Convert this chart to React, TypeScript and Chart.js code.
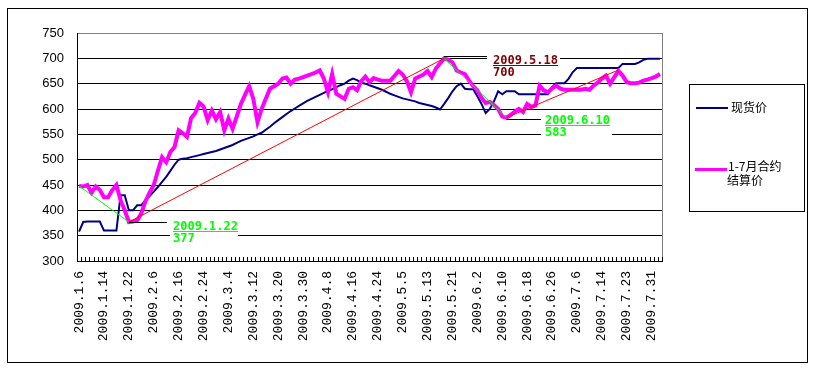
import React, { useEffect, useRef } from 'react';
import { Chart, registerables } from 'chart.js';

Chart.register(...registerables);

// ---------- DATA ----------
const categories = [
  '2009.1.6','2009.1.7','2009.1.8','2009.1.9','2009.1.12','2009.1.13','2009.1.14','2009.1.15','2009.1.16','2009.1.19','2009.1.20','2009.1.21','2009.1.22','2009.1.23',
  '2009.2.2','2009.2.3','2009.2.4','2009.2.5','2009.2.6','2009.2.9','2009.2.10','2009.2.11','2009.2.12','2009.2.13','2009.2.16','2009.2.17','2009.2.18','2009.2.19','2009.2.20','2009.2.23','2009.2.24','2009.2.25','2009.2.26','2009.2.27',
  '2009.3.2','2009.3.3','2009.3.4','2009.3.5','2009.3.6','2009.3.9','2009.3.10','2009.3.11','2009.3.12','2009.3.13','2009.3.16','2009.3.17','2009.3.18','2009.3.19','2009.3.20','2009.3.23','2009.3.24','2009.3.25','2009.3.26','2009.3.27','2009.3.30','2009.3.31',
  '2009.4.1','2009.4.2','2009.4.3','2009.4.7','2009.4.8','2009.4.9','2009.4.10','2009.4.13','2009.4.14','2009.4.15','2009.4.16','2009.4.17','2009.4.20','2009.4.21','2009.4.22','2009.4.23','2009.4.24','2009.4.27','2009.4.28','2009.4.29','2009.4.30',
  '2009.5.4','2009.5.5','2009.5.6','2009.5.7','2009.5.8','2009.5.11','2009.5.12','2009.5.13','2009.5.14','2009.5.15','2009.5.18','2009.5.19','2009.5.20','2009.5.21','2009.5.22','2009.5.25','2009.5.26','2009.5.27',
  '2009.6.1','2009.6.2','2009.6.3','2009.6.4','2009.6.5','2009.6.8','2009.6.9','2009.6.10','2009.6.11','2009.6.12','2009.6.15','2009.6.16','2009.6.17','2009.6.18','2009.6.19','2009.6.22','2009.6.23','2009.6.24','2009.6.25','2009.6.26','2009.6.29','2009.6.30',
  '2009.7.1','2009.7.2','2009.7.3','2009.7.6','2009.7.7','2009.7.8','2009.7.9','2009.7.10','2009.7.13','2009.7.14','2009.7.15','2009.7.16','2009.7.17','2009.7.21','2009.7.22','2009.7.23','2009.7.24','2009.7.27','2009.7.28','2009.7.29','2009.7.30','2009.7.31',
  '2009.8.3','2009.8.4',
];

const shownTickLabels = [
  '2009.1.6','2009.1.14','2009.1.22','2009.2.6','2009.2.16','2009.2.24','2009.3.4','2009.3.12',
  '2009.3.20','2009.3.30','2009.4.8','2009.4.16','2009.4.24','2009.5.5','2009.5.13','2009.5.21',
  '2009.6.2','2009.6.10','2009.6.18','2009.6.26','2009.7.6','2009.7.14','2009.7.23','2009.7.31',
];

const yTicks = [300, 350, 400, 450, 500, 550, 600, 650, 700, 750];

// 现货价
const spotPrice = [
  358,377,378,378,378,378,360,360,360,360,
  430,430,400,400,410,410,420,428,437,446,
  456,466,478,490,500,502,503,505,507,509,
  511,513,515,517,520,523,526,529,533,537,
  540,543,546,550,553,559,565,572,578,584,
  590,596,601,606,611,616,620,624,628,632,
  636,639,643,647,650,656,660,657,652,650,
  647,644,641,638,634,630,627,624,621,619,
  617,615,612,610,608,606,603,599,610,622,
  635,645,650,640,639,639,625,610,592,600,
  615,635,629,635,635,635,629,629,629,629,
  629,629,629,629,643,651,651,651,660,673,
  681,681,681,681,681,681,681,681,681,681,
  681,689,689,689,689,692,697,699,699,699,699,
];

// 1-7月合约结算价
const futuresPrice = [
  448,447,450,435,447,440,426,426,440,450,
  420,400,377,378,380,394,418,435,450,478,
  505,495,515,525,558,552,545,582,592,612,
  605,578,597,580,594,558,581,561,585,610,
  628,645,620,574,600,620,640,645,650,660,
  662,650,658,660,663,666,669,672,676,660,
  633,669,630,625,620,640,643,637,655,664,
  653,661,658,656,656,656,665,675,668,655,
  633,660,664,668,675,663,680,690,700,697,
  692,676,672,669,656,645,637,622,612,614,
  608,600,585,583,588,595,600,594,610,604,
  607,646,637,633,641,646,640,638,638,638,
  638,638,640,638,646,652,660,666,650,663,
  675,666,653,651,651,652,656,658,661,664,669,
];

const seriesNames = ['现货价', '1-7月合约结算价'];
const legendLines = [['现货价'], ['1-7月合约', '结算价']];

// trend segments (category of start/end and values)
const trendFrom = ['2009.1.6', '2009.1.22', '2009.5.19', '2009.6.11'];
const trendTo = ['2009.1.22', '2009.5.19', '2009.6.11', '2009.7.21'];
const trendFromValue = [448, 377, 700, 583];
const trendToValue = [377, 700, 583, 677];

// callouts
const calloutAnchor = ['2009.1.22', '2009.5.19', '2009.6.11'];
const calloutDate = ['2009.1.22', '2009.5.18', '2009.6.10'];
const calloutValue = [377, 700, 583];

// ---------- STYLES / LAYOUT ----------
const NAVY = '#000080';
const MAGENTA = '#FF00FF';
const trendColors = ['#00FF00', '#FF0000', '#00FF00', '#FF0000'];
const calloutColors = ['#00FF00', '#800000', '#00FF00'];
const calloutLayout = [
  { leader: 38, leaderDy: 0, boxDx: 41, boxDy: -10, boxW: 68, boxH: 33, textDx: 44, b1: 8, b2: 20 },
  { leader: 43, leaderDy: -2, boxDx: 43, boxDy: -8, boxW: 73, boxH: 28, textDx: 49, b1: 6, b2: 17.5 },
  { leader: 35, leaderDy: 1, boxDx: 35, boxDy: -5, boxW: 71, boxH: 26, textDx: 38.5, b1: 6.5, b2: 18 },
];

const idx = (c: string) => categories.indexOf(c);

const decorPlugin = {
  id: 'decor',
  beforeDatasetsDraw(chart: any) {
    const { ctx, chartArea: a, scales } = chart;
    const x = scales.x;
    ctx.save();
    ctx.lineWidth = 1;
    ctx.strokeStyle = '#808080';
    ctx.beginPath();
    const rx = Math.round(a.right) + 0.5;
    ctx.moveTo(rx, a.top);
    ctx.lineTo(rx, a.bottom);
    ctx.stroke();
    // inward category tick marks
    const n = categories.length;
    const step = (x.getPixelForValue(n - 1) - x.getPixelForValue(0)) / (n - 1);
    ctx.strokeStyle = '#000';
    ctx.beginPath();
    for (let i = 0; i <= n; i++) {
      const px = Math.round(x.getPixelForValue(0) - step / 2 + i * step) + 0.5;
      ctx.moveTo(px, a.bottom);
      ctx.lineTo(px, a.bottom - 4);
    }
    ctx.stroke();
    ctx.restore();
  },
  afterDatasetsDraw(chart: any) {
    const { ctx, scales } = chart;
    const x = scales.x;
    const y = scales.y;
    ctx.save();
    for (let k = 0; k < calloutAnchor.length; k++) {
      const L = calloutLayout[k];
      const px = x.getPixelForValue(idx(calloutAnchor[k]));
      const py = y.getPixelForValue(calloutValue[k]);
      const ly = Math.round(py + L.leaderDy) + 0.5;
      ctx.strokeStyle = '#000';
      ctx.lineWidth = 1;
      ctx.beginPath();
      ctx.moveTo(px, ly);
      ctx.lineTo(px + L.leader, ly);
      ctx.stroke();
      ctx.fillStyle = '#fff';
      ctx.fillRect(Math.round(px + L.boxDx), Math.round(py + L.boxDy), L.boxW, L.boxH);
      ctx.fillStyle = calloutColors[k];
      ctx.font = 'bold 12px "DejaVu Sans Mono"';
      ctx.textAlign = 'left';
      ctx.textBaseline = 'alphabetic';
      const tx = Math.round(px + L.textDx);
      const t1 = calloutDate[k];
      ctx.fillText(t1, tx, Math.round(py + L.b1));
      const w = ctx.measureText(t1).width;
      ctx.fillRect(tx, Math.round(py + L.b1) + 1, w, 1);
      ctx.fillText(String(calloutValue[k]), tx, Math.round(py + L.b2));
    }
    ctx.restore();
  },
  afterDraw(chart: any) {
    const { ctx } = chart;
    ctx.save();
    // legend box
    ctx.strokeStyle = '#000';
    ctx.lineWidth = 1;
    ctx.strokeRect(689.5, 84.5, 115, 127);
    ctx.lineWidth = 2;
    ctx.strokeStyle = NAVY;
    ctx.beginPath();
    ctx.moveTo(696, 108);
    ctx.lineTo(728, 108);
    ctx.stroke();
    ctx.lineWidth = 3;
    ctx.strokeStyle = MAGENTA;
    ctx.beginPath();
    ctx.moveTo(695, 169.5);
    ctx.lineTo(727, 169.5);
    ctx.stroke();
    ctx.fillStyle = '#000';
    ctx.font = '12px "Noto Sans CJK SC"';
    ctx.textAlign = 'left';
    ctx.textBaseline = 'middle';
    ctx.fillText(legendLines[0][0], 731, 107);
    ctx.fillText(legendLines[1][0], 728, 166);
    ctx.fillText(legendLines[1][1], 727, 180);
    // outer frame
    ctx.lineWidth = 1;
    ctx.strokeStyle = '#000';
    ctx.strokeRect(7.5, 8.5, 800, 354);
    ctx.restore();
  },
};

export default function App() {
  const ref = useRef<HTMLCanvasElement | null>(null);
  useEffect(() => {
    if (!ref.current) return;
    const trendSets = trendFrom.map((f, k) => {
      const a = idx(f);
      const b = idx(trendTo[k]);
      return {
        label: 'trend' + k,
        data: categories.map((_, i) => (i === a ? trendFromValue[k] : i === b ? trendToValue[k] : null)),
        borderColor: trendColors[k],
        borderWidth: 1,
        pointRadius: 0,
        spanGaps: true,
        tension: 0,
        order: 0,
      };
    });
    const chart = new Chart(ref.current, {
      type: 'line',
      data: {
        labels: categories,
        datasets: [
          ...trendSets,
          {
            label: seriesNames[1],
            data: futuresPrice,
            borderColor: MAGENTA,
            borderWidth: 4,
            pointRadius: 0,
            tension: 0,
            order: 1,
          },
          {
            label: seriesNames[0],
            data: spotPrice,
            borderColor: NAVY,
            borderWidth: 2,
            pointRadius: 0,
            tension: 0,
            order: 2,
          },
        ] as any,
      },
      options: {
        animation: false,
        responsive: false,
        devicePixelRatio: 1,
        layout: { padding: { left: 0, right: 155, top: 33, bottom: 8 } },
        plugins: { legend: { display: false }, tooltip: { enabled: false } },
        scales: {
          x: {
            type: 'category',
            offset: true,
            grid: { drawOnChartArea: false, drawTicks: false },
            border: { color: '#000', width: 1 },
            ticks: {
              autoSkip: false,
              maxRotation: 90,
              minRotation: 90,
              padding: 10,
              color: '#000',
              font: { family: '"Liberation Mono"', size: 13 },
              callback: (_v: any, i: number) => (shownTickLabels.includes(categories[i]) ? categories[i] : ''),
            },
            afterFit: (s: any) => {
              s.height = 100;
            },
          },
          y: {
            min: yTicks[0],
            max: yTicks[yTicks.length - 1],
            afterBuildTicks: (s: any) => {
              s.ticks = yTicks.map((v) => ({ value: v }));
            },
            ticks: {
              padding: 13,
              color: '#000',
              font: { family: '"Liberation Sans"', size: 13 },
            },
            grid: {
              drawTicks: false,
              color: (c: any) => (c.tick && c.tick.value === 750 ? '#808080' : '#000'),
            },
            border: { color: '#000', width: 1 },
            afterFit: (s: any) => {
              s.width = 77;
            },
          },
        },
      },
      plugins: [decorPlugin],
    });
    return () => chart.destroy();
  }, []);
  return (
    <canvas
      ref={ref}
      width={817}
      height={369}
      style={{ position: 'fixed', left: 0, top: 0, width: 817, height: 369 }}
    />
  );
}
